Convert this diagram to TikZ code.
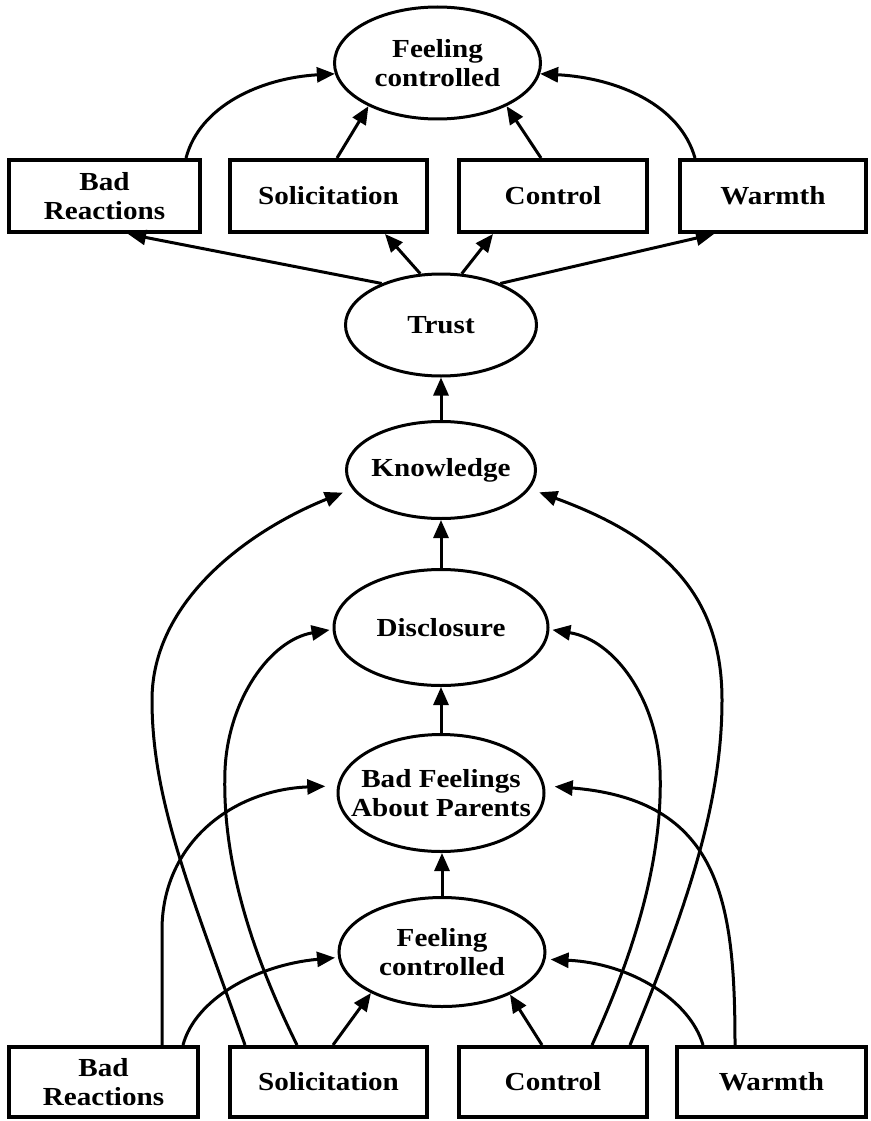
\documentclass[tikz,border=0pt]{standalone}
\usepackage{fontspec}
\setmainfont{Liberation Serif}[FakeStretch=1.12]
\usetikzlibrary{shapes.geometric,arrows.meta}

\newcommand\diaglabelfont{\fontsize{26}{29}\selectfont\bfseries}

\tikzset{
  box/.style={draw, line width=4pt, inner sep=0pt, align=center, font=\diaglabelfont},
  ell/.style={draw, ellipse, line width=3pt, inner sep=0pt},
  ltxt/.style={align=center, font=\diaglabelfont},
  arr/.style={line width=3pt, -{Triangle[length=18pt,width=15pt]}},
}

\begin{document}
\begin{tikzpicture}[x=1pt,y=-1pt]
\useasboundingbox (0,0) rectangle (870,1121);
\fill[white] (0,0) rectangle (870,1121);

% upper model
\node[ell, minimum width=206pt, minimum height=112pt, label={[ltxt]center:Feeling\\controlled}] (fcTop) at (437.5,63) {};
\node[box, minimum width=191pt, minimum height=72pt] (brTop) at (104.5,196) {Bad\\Reactions};
\node[box, minimum width=197pt, minimum height=72pt] (soTop) at (328.5,196) {Solicitation};
\node[box, minimum width=188pt, minimum height=72pt] (coTop) at (553,196) {Control};
\node[box, minimum width=186pt, minimum height=72pt] (waTop) at (773,196) {Warmth};
\node[ell, minimum width=191pt, minimum height=102pt, label={[ltxt]center:Trust}] (trust) at (441,325) {};

% central chain
\node[ell, minimum width=189pt, minimum height=97pt, label={[ltxt]center:Knowledge}] (know) at (441,470) {};
\node[ell, minimum width=214pt, minimum height=116pt, label={[ltxt]center:Disclosure}] (disc) at (441,627.5) {};
\node[ell, minimum width=206pt, minimum height=117pt, label={[ltxt]center:Bad Feelings\\About Parents}] (badf) at (441,793) {};
\node[ell, minimum width=206pt, minimum height=109pt, label={[ltxt]center:Feeling\\controlled}] (fcBot) at (442,952) {};

% lower row of parenting measures
\node[box, minimum width=189pt, minimum height=70pt] (brBot) at (103.5,1082) {Bad\\Reactions};
\node[box, minimum width=197pt, minimum height=70pt] (soBot) at (328.5,1082) {Solicitation};
\node[box, minimum width=188pt, minimum height=70pt] (coBot) at (553,1082) {Control};
\node[box, minimum width=189pt, minimum height=70pt] (waBot) at (771.5,1082) {Warmth};

% upper arrows into feeling controlled
\draw[arr] ([xshift=81.5pt]brTop.north) .. controls (200,105) and (262,78) .. (fcTop.186);
\draw[arr] ([xshift=8.5pt]soTop.north) -- (fcTop.212);
\draw[arr] ([xshift=-12pt]coTop.north) -- (fcTop.328);
\draw[arr] ([xshift=-78pt]waTop.north) .. controls (680,105) and (618,78) .. (fcTop.354);

% trust to the four measures
\draw[arr] (trust.145) -- ([xshift=23.5pt]brTop.south);
\draw[arr] (trust.112) -- ([xshift=56.5pt]soTop.south);
\draw[arr] (trust.68) -- ([xshift=-60pt]coTop.south);
\draw[arr] (trust.35) -- ([xshift=-59pt]waTop.south);

% vertical chain
\draw[arr] (know.north) -- (know.north |- trust.south);
\draw[arr] (disc.north) -- (disc.north |- know.south);
\draw[arr] (badf.north) -- (badf.north |- disc.south);
\draw[arr] (fcBot.north) -- (fcBot.north |- badf.south);

% lower arrows into feeling controlled
\draw[arr] ([xshift=4.5pt]soBot.north) -- (fcBot.210);
\draw[arr] ([xshift=-11pt]coBot.north) -- (fcBot.328);
\draw[arr, shorten >=3pt] ([xshift=79.5pt]brBot.north) .. controls (195,1000) and (255,965) .. (fcBot.183);
\draw[arr, shorten >=5pt] ([xshift=-68.5pt]waBot.north) .. controls (690,1000) and (630,963) .. (fcBot.356);

% long paths to bad feelings, disclosure and knowledge
\draw[arr, shorten >=12pt] ([xshift=58.5pt]brBot.north) -- (162,930) .. controls (162,845) and (230,790) .. (badf.176);
\draw[arr, shorten >=10pt] ([xshift=-36.5pt]waBot.north) .. controls (735,900) and (720,800) .. (badf.4);
\draw[arr, shorten >=3pt] ([xshift=-31.5pt]soBot.north) .. controls (245,940) and (222,850) .. (225,770) .. controls (228,700) and (270,640) .. (disc.181);
\draw[arr, shorten >=3pt] ([xshift=39pt]coBot.north) .. controls (640,940) and (663,850) .. (660,770) .. controls (657,700) and (615,640) .. (disc.359);
\draw[arr, shorten >=10pt] ([xshift=-83.5pt]soBot.north) .. controls (190,890) and (152,800) .. (152,700) .. controls (152,600) and (250,530) .. (know.192);
\draw[arr, shorten >=10pt] ([xshift=77pt]coBot.north) .. controls (690,900) and (722,800) .. (722,700) .. controls (722,600) and (670,540) .. (know.348);
\end{tikzpicture}
\end{document}
